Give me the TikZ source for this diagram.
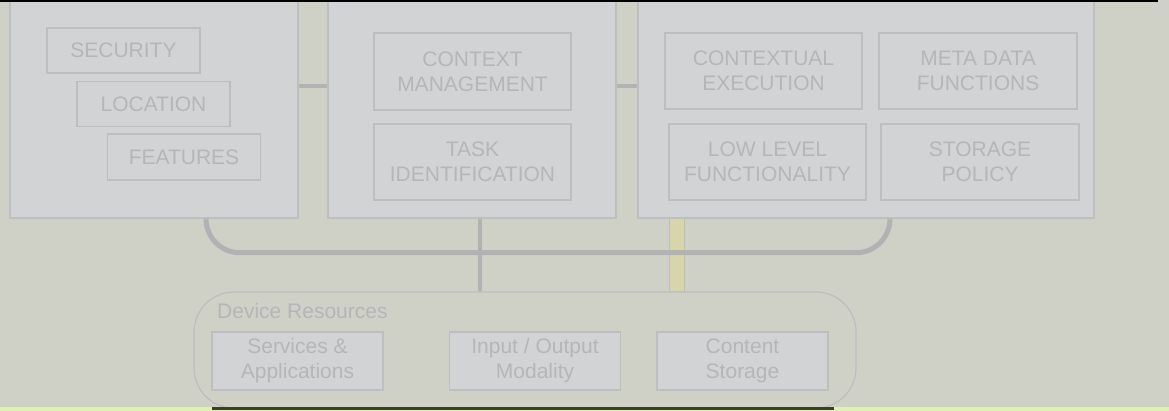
\documentclass[tikz,border=0pt]{standalone}
\usepackage{fontspec}
\setmainfont{Liberation Sans}
\usepackage{tikz}
\usetikzlibrary{positioning}
\definecolor{BgGray}{RGB}{207,208,198}
\definecolor{BoxFill}{RGB}{210,211,213}
\definecolor{BoxLine}{RGB}{189,190,191}
\definecolor{TxtGray}{RGB}{181,182,184}
\definecolor{BusGray}{RGB}{178,178,178}
\definecolor{BarYellow}{RGB}{214,214,170}
\definecolor{StripGreen}{RGB}{224,242,178}
\definecolor{EdgeDark}{RGB}{58,64,36}

\begin{document}
\begin{tikzpicture}[x=1pt, y=-1pt,
      lbox/.style={rectangle, draw=BoxLine, fill=BoxFill, line width=1.5pt,
                   inner sep=0pt},
      fbox/.style={rectangle, draw=BoxLine, fill=BoxFill, line width=1.5pt,
                   inner sep=0pt, align=center, text=TxtGray,
                   font=\fontsize{21pt}{25pt}\selectfont},
      rbox/.style={fbox, minimum width=171pt, minimum height=58pt},
      link/.style={draw=BusGray, line width=4pt},
      bus/.style={draw=BusGray, line width=5pt, rounded corners=34pt}
    ]
    \useasboundingbox (0,0) rectangle (1169,411);
    \clip (0,0) rectangle (1169,411);
    \fill[BgGray] (0,0) rectangle (1169,411);
    \fill[StripGreen] (0,407) rectangle (1169,411);

    % the three layers, tops cut off by the frame
    \node[lbox, minimum width=288pt, minimum height=264pt] (sens) at (154, 86) {};
    \node[lbox, minimum width=288pt, minimum height=264pt] (ctxl) at (472, 86) {};
    \node[lbox, minimum width=456pt, minimum height=264pt] (stol) at (866, 86) {};

    \node[fbox, minimum width=153pt, minimum height=45pt] (sec)  at (123.5, 50.5) {SECURITY};
    \node[fbox, minimum width=153pt, minimum height=45pt] (loc)  at (153.5, 104)  {LOCATION};
    \node[fbox, minimum width=153pt, minimum height=46pt] (feat) at (184, 157)    {FEATURES};

    \node[fbox, minimum width=197pt, minimum height=77pt] (ctx)  at (472.5, 71.5) {CONTEXT\\MANAGEMENT};
    \node[fbox, minimum width=197pt, minimum height=76pt] (task) at (472.5, 162)  {TASK\\IDENTIFICATION};

    \node[fbox, minimum width=197pt, minimum height=76pt] (cexe) at (763.5, 71) {CONTEXTUAL\\EXECUTION};
    \node[fbox, minimum width=198pt, minimum height=76pt] (meta) at (978, 71)   {META DATA\\FUNCTIONS};
    \node[fbox, minimum width=197pt, minimum height=76pt] (low)  at (767.5, 162) {LOW LEVEL\\FUNCTIONALITY};
    \node[fbox, minimum width=198pt, minimum height=76pt] (stor) at (980, 162)  {STORAGE\\POLICY};

    \draw[link] (sens.east) -- (ctxl.west);
    \draw[link] (ctxl.east) -- (stol.west);

    % device resources
    \node[rectangle, rounded corners=40pt, draw=BoxLine, line width=1.2pt,
          fill=BgGray, minimum width=662pt, minimum height=116pt] (dev) at (525, 350) {};
    \draw[EdgeDark, line width=2.5pt] ([xshift=19pt]dev.south west) -- ([xshift=-23pt]dev.south east);
    \node[anchor=base west, text=TxtGray, inner sep=0pt,
          font=\fontsize{21pt}{25pt}\selectfont] (devlbl) at (217, 319) {Device Resources};

    \node[rbox] (srv)  at (297.5, 361) {Services \&\\Applications};
    \node[rbox] (io)   at (535, 361)   {Input / Output\\Modality};
    \node[rbox] (cont) at (742.5, 361) {Content\\Storage};

    \draw[link] ([xshift=8pt]ctxl.south) -- ([xshift=8pt]ctxl.south |- dev.north);
    \draw[draw=BoxLine, fill=BarYellow, line width=1pt]
          ([xshift=-197pt]stol.south) rectangle ([xshift=-182pt]stol.south |- dev.north);
    \draw[bus] ([xshift=52pt]sens.south) -- ++(0,34) -| ([xshift=24pt]stol.south);

    \fill[black] (0,0) rectangle (1158,2.2);
  \end{tikzpicture}
\end{document}
